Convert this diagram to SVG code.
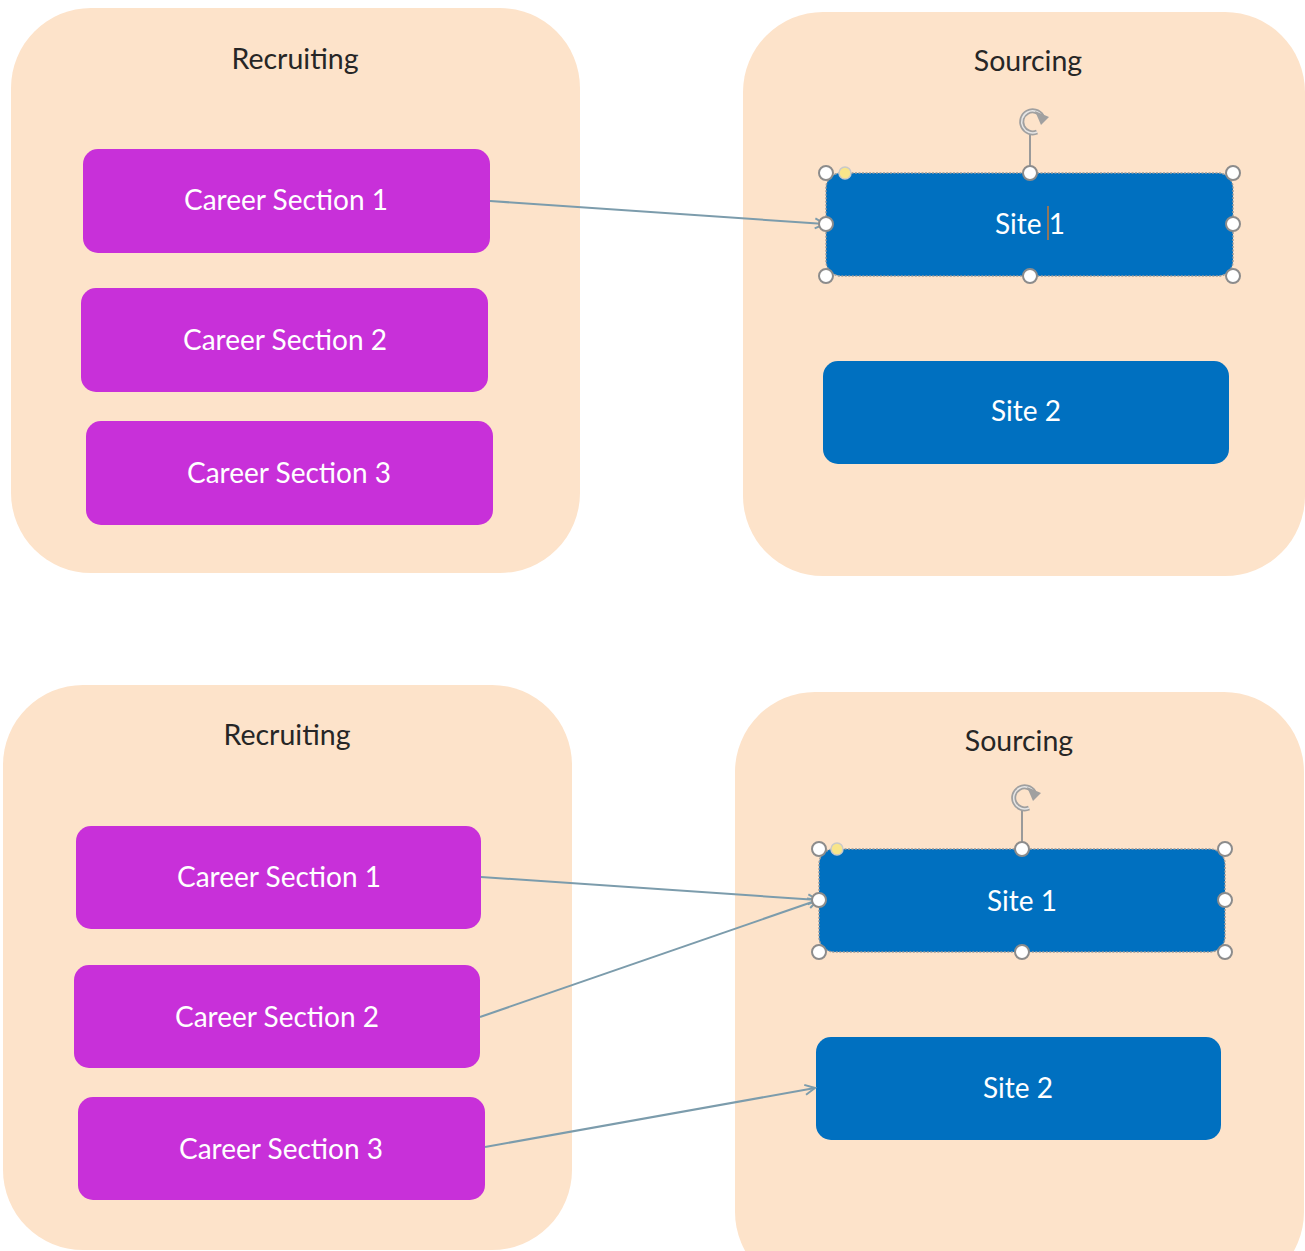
<svg xmlns="http://www.w3.org/2000/svg" width="1305" height="1251" viewBox="0 0 1305 1251">
<style>
.cont{fill:#fde3ca}
.title{font-family:Lato,"Liberation Sans",sans-serif;font-size:28.5px;fill:#262626;text-anchor:middle}
.cs{fill:#c830d9}
.site{fill:#0070c0}
.lbl{font-family:Lato,"Liberation Sans",sans-serif;font-size:28px;fill:#ffffff;text-anchor:middle}
.conn{stroke:#7c9cac;stroke-width:2;fill:none;marker-end:url(#arr)}
.h{fill:#ffffff;stroke:#8c8c8c;stroke-width:2}
.y{fill:#f8e58a;stroke:#c9c9c9;stroke-width:1.5}
.sel{fill:none;stroke:#9a9a9a;stroke-width:1.5;stroke-dasharray:2 1.5}
.rot{fill:none;stroke:#a0a0a0;stroke-width:5}
.rotin{fill:none;stroke:#e6e6e6;stroke-width:1.5}
</style>
<defs>
<marker id="arr" markerUnits="userSpaceOnUse" markerWidth="14" markerHeight="14" refX="11" refY="6" orient="auto">
<path d="M1,1 L11,6 L1,11" fill="none" stroke="#7c9cac" stroke-width="2"/>
</marker>
</defs>

<g id="recruiting-top">
<rect class="cont" x="11" y="8" width="569" height="565" rx="80"/>
<text class="title" x="295" y="69">Recruiting</text>
</g>
<g id="sourcing-top">
<rect class="cont" x="743" y="12" width="562" height="564" rx="80"/>
<text class="title" x="1028" y="71">Sourcing</text>
</g>
<g id="recruiting-bottom">
<rect class="cont" x="3" y="685" width="569" height="565" rx="80"/>
<text class="title" x="287" y="745">Recruiting</text>
</g>
<g id="sourcing-bottom">
<rect class="cont" x="735" y="692" width="569" height="600" rx="80"/>
<text class="title" x="1019" y="751">Sourcing</text>
</g>

<g id="cs1-top"><rect class="cs" x="83" y="149" width="407" height="104" rx="15"/><text class="lbl" x="286" y="210">Career Section 1</text></g>
<g id="cs2-top"><rect class="cs" x="81" y="288" width="407" height="104" rx="15"/><text class="lbl" x="285" y="350">Career Section 2</text></g>
<g id="cs3-top"><rect class="cs" x="86" y="421" width="407" height="104" rx="15"/><text class="lbl" x="289" y="483">Career Section 3</text></g>
<g id="site1-top"><rect class="site" x="826" y="173" width="407" height="103" rx="15"/><text class="lbl" x="1030" y="234">Site 1</text><line x1="1048" y1="206" x2="1048" y2="240" stroke="#c0783a" stroke-width="1.5"/></g>
<g id="site2-top"><rect class="site" x="823" y="361" width="406" height="103" rx="15"/><text class="lbl" x="1026" y="421">Site 2</text></g>

<g id="cs1-bottom"><rect class="cs" x="76" y="826" width="405" height="103" rx="15"/><text class="lbl" x="279" y="887">Career Section 1</text></g>
<g id="cs2-bottom"><rect class="cs" x="74" y="965" width="406" height="103" rx="15"/><text class="lbl" x="277" y="1027">Career Section 2</text></g>
<g id="cs3-bottom"><rect class="cs" x="78" y="1097" width="407" height="103" rx="15"/><text class="lbl" x="281" y="1159">Career Section 3</text></g>
<g id="site1-bottom"><rect class="site" x="819" y="849" width="406" height="103" rx="15"/><text class="lbl" x="1022" y="911">Site 1</text></g>
<g id="site2-bottom"><rect class="site" x="816" y="1037" width="405" height="103" rx="15"/><text class="lbl" x="1018" y="1098">Site 2</text></g>

<g id="connectors">
<line class="conn" x1="490" y1="201" x2="825" y2="224"/>
<line class="conn" x1="481" y1="877" x2="818" y2="900"/>
<line class="conn" x1="480" y1="1017" x2="818" y2="900"/>
<line class="conn" x1="485" y1="1147" x2="815" y2="1088"/>
</g>

<g id="selection-top">
<rect class="sel" x="826" y="173" width="407" height="103" rx="15"/>
<line x1="1030" y1="173" x2="1030" y2="134" stroke="#9a9a9a" stroke-width="2"/>
<path class="rot" d="M1042,116 A11,11 0 1 0 1037,132"/>
<path class="rotin" d="M1042,116 A11,11 0 1 0 1037,132"/>
<path d="M1035,111 L1049,117 L1041,125 Z" fill="#a0a0a0"/>
<circle class="h" cx="826" cy="173" r="7"/><circle class="y" cx="845" cy="173" r="6"/><circle class="h" cx="1030" cy="173" r="7"/><circle class="h" cx="1233" cy="173" r="7"/>
<circle class="h" cx="826" cy="224" r="7"/><circle class="h" cx="1233" cy="224" r="7"/>
<circle class="h" cx="826" cy="276" r="7"/><circle class="h" cx="1030" cy="276" r="7"/><circle class="h" cx="1233" cy="276" r="7"/>
</g>
<g id="selection-bottom">
<rect class="sel" x="819" y="849" width="406" height="103" rx="15"/>
<line x1="1022" y1="849" x2="1022" y2="810" stroke="#9a9a9a" stroke-width="2"/>
<path class="rot" d="M1034,792 A11,11 0 1 0 1029,808"/>
<path class="rotin" d="M1034,792 A11,11 0 1 0 1029,808"/>
<path d="M1027,787 L1041,793 L1033,801 Z" fill="#a0a0a0"/>
<circle class="h" cx="819" cy="849" r="7"/><circle class="y" cx="837" cy="849" r="6"/><circle class="h" cx="1022" cy="849" r="7"/><circle class="h" cx="1225" cy="849" r="7"/>
<circle class="h" cx="819" cy="900" r="7"/><circle class="h" cx="1225" cy="900" r="7"/>
<circle class="h" cx="819" cy="952" r="7"/><circle class="h" cx="1022" cy="952" r="7"/><circle class="h" cx="1225" cy="952" r="7"/>
</g>
</svg>
